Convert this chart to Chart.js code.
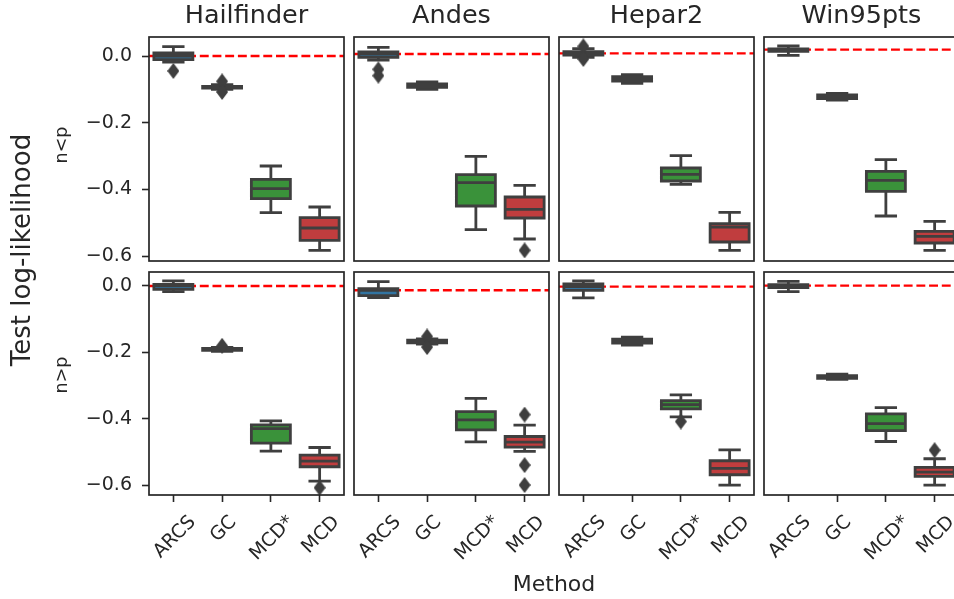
<!DOCTYPE html>
<html>
<head>
<meta charset="utf-8">
<script src="https://cdn.jsdelivr.net/npm/chart.js"></script>
<style>
  html, body { margin: 0; padding: 0; background: #ffffff; }
  #fig { position: relative; width: 954px; height: 599px; overflow: hidden; background: #ffffff;
         font-family: "DejaVu Sans", sans-serif; color: #262626; }
  #fig canvas { position: absolute; }
  .lbl { position: absolute; white-space: nowrap; line-height: 1; transform-origin: 50% 50%; }
</style>
</head>
<body>
<div id="fig"></div>
<script>
// ---------------- data ----------------
const methods  = ['ARCS', 'GC', 'MCD*', 'MCD'];
const networks = ['Hailfinder', 'Andes', 'Hepar2', 'Win95pts'];
const regimes  = ['n<p', 'n>p'];
const yTickValues = [0, -0.2, -0.4, -0.6];
const rowYMin = [-0.615, -0.629];
const rowYMax = [0.057, 0.042];

// box summaries per method: [lower whisker, Q1, median, Q3, upper whisker]
// regime n<p
const hailfinderLess = [[-0.018, -0.011, 0.000, 0.009, 0.028], [-0.100, -0.096, -0.093, -0.091, -0.086], [-0.470, -0.428, -0.398, -0.370, -0.330], [-0.583, -0.553, -0.516, -0.485, -0.453]];
const andesLess      = [[-0.012, -0.004, 0.006, 0.012, 0.026], [-0.100, -0.094, -0.089, -0.084, -0.078], [-0.521, -0.450, -0.380, -0.356, -0.301], [-0.549, -0.486, -0.460, -0.423, -0.388]];
const hepar2Less     = [[-0.004, 0.003, 0.008, 0.013, 0.022], [-0.082, -0.075, -0.068, -0.062, -0.056], [-0.385, -0.375, -0.355, -0.336, -0.299], [-0.583, -0.558, -0.513, -0.503, -0.469]];
const win95ptsLess   = [[0.002, 0.014, 0.019, 0.021, 0.030], [-0.132, -0.128, -0.122, -0.117, -0.112], [-0.480, -0.406, -0.373, -0.346, -0.311], [-0.583, -0.561, -0.541, -0.526, -0.496]];
// regime n>p
const hailfinderGreater = [[-0.017, -0.010, 0.000, 0.005, 0.015], [-0.197, -0.194, -0.191, -0.188, -0.185], [-0.497, -0.473, -0.429, -0.418, -0.406], [-0.587, -0.544, -0.527, -0.509, -0.486]];
const andesGreater      = [[-0.035, -0.029, -0.013, -0.008, 0.013], [-0.175, -0.171, -0.167, -0.163, -0.159], [-0.469, -0.433, -0.403, -0.378, -0.338], [-0.498, -0.485, -0.470, -0.453, -0.419]];
const hepar2Greater     = [[-0.036, -0.013, -0.002, 0.006, 0.015], [-0.178, -0.172, -0.166, -0.160, -0.154], [-0.394, -0.370, -0.357, -0.345, -0.328], [-0.599, -0.568, -0.549, -0.526, -0.493]];
const win95ptsGreater   = [[-0.017, -0.005, 0.001, 0.004, 0.014], [-0.281, -0.278, -0.274, -0.270, -0.265], [-0.468, -0.435, -0.414, -0.385, -0.366], [-0.599, -0.573, -0.560, -0.546, -0.520]];

// outlier points per method
const hailfinderLessOut    = [[-0.045], [-0.076, -0.108], [], []];
const andesLessOut         = [[-0.040, -0.059], [], [], [-0.583]];
const hepar2LessOut        = [[0.029, -0.009], [], [], []];
const win95ptsLessOut      = [[], [], [], []];
const hailfinderGreaterOut = [[], [-0.180], [], [-0.607]];
const andesGreaterOut      = [[], [-0.152, -0.184], [], [-0.387, -0.539, -0.599]];
const hepar2GreaterOut     = [[], [], [-0.408], []];
const win95ptsGreaterOut   = [[], [], [], [-0.494]];

const rowStats = [
  [hailfinderLess, andesLess, hepar2Less, win95ptsLess],
  [hailfinderGreater, andesGreater, hepar2Greater, win95ptsGreater]
];
const rowOutliers = [
  [hailfinderLessOut, andesLessOut, hepar2LessOut, win95ptsLessOut],
  [hailfinderGreaterOut, andesGreaterOut, hepar2GreaterOut, win95ptsGreaterOut]
];

// ---------------- style / layout ----------------
const faceColors = ['#3274a1', '#e1812c', '#3a923a', '#c03d3e'];
const GRAY = '#3f3f3f';
const INK = '#262626';
const FONT = '"DejaVu Sans", sans-serif';
Chart.defaults.font.family = FONT;

const colLefts = [149, 354, 559, 764];
const rowTops = [37, 272];
const rowBottoms = [261, 495];
const panelW = 195;
const figH = 599;
const yAxisW = 90;
const tickLen = 7;
const halfBox = 0.4, halfCap = 0.2;
const boxLine = 2.8;

function diamondImage() {
  const c = document.createElement('canvas');
  c.width = 12; c.height = 16;
  const g = c.getContext('2d');
  g.fillStyle = GRAY;
  g.beginPath(); g.moveTo(6, 0); g.lineTo(12, 8); g.lineTo(6, 16); g.lineTo(0, 8); g.closePath(); g.fill();
  return c;
}
const diamond = diamondImage();

const framePlugin = {
  id: 'frame',
  afterDatasetsDraw(chart) {
    const { ctx, chartArea: a } = chart;
    ctx.save();
    ctx.strokeStyle = INK; ctx.lineWidth = 1.7;
    ctx.strokeRect(a.left, a.top, a.right - a.left, a.bottom - a.top);
    ctx.restore();
  }
};

const xLabelPlugin = {
  id: 'xLabels',
  afterDraw(chart) {
    const { ctx, chartArea, scales } = chart;
    const size = 19, capH = 0.729 * size;
    const top = chartArea.bottom + 18;
    ctx.save();
    ctx.font = size + 'px ' + FONT;
    ctx.fillStyle = INK;
    methods.forEach((m, i) => {
      const px = scales.x.getPixelForValue(i);
      const w = ctx.measureText(m).width;
      const cy = top + Math.SQRT1_2 * (w + capH) / 2;
      ctx.save();
      ctx.translate(px, cy);
      ctx.rotate(-Math.PI / 4);
      ctx.textAlign = 'center';
      ctx.textBaseline = 'alphabetic';
      ctx.fillText(m, 0, capH / 2);
      ctx.restore();
    });
    ctx.restore();
  }
};

function buildDatasets(stats, outs) {
  const whiskers = [], outline = [], faces = [], fliers = [];
  stats.forEach((s, i) => {
    const [lo, q1, med, q3, hi] = s;
    whiskers.push({x: i, y: q3}, {x: i, y: hi}, {x: i, y: null},
                  {x: i, y: q1}, {x: i, y: lo}, {x: i, y: null},
                  {x: i - halfCap, y: hi}, {x: i + halfCap, y: hi}, {x: i, y: null},
                  {x: i - halfCap, y: lo}, {x: i + halfCap, y: lo}, {x: i, y: null});
    outline.push({x: i - halfBox, y: q1}, {x: i + halfBox, y: q1}, {x: i + halfBox, y: q3},
                 {x: i - halfBox, y: q3}, {x: i - halfBox, y: q1}, {x: i, y: null},
                 {x: i - halfBox, y: med}, {x: i + halfBox, y: med}, {x: i, y: null});
    faces.push({x: i, y: [q1, q3]});
    outs[i].forEach(v => fliers.push({x: i, y: v}));
  });
  const ref = stats[0][2]; // dashed reference at ARCS median
  const refLine = [{x: -0.5, y: ref}, {x: methods.length - 0.5, y: ref}];
  return [
    {type: 'line', label: 'reference', data: refLine, borderColor: '#ff0000', borderWidth: 2.4,
     borderDash: [8.9, 3.8], pointRadius: 0, fill: false, order: 5},
    {type: 'line', label: 'whiskers', data: whiskers, borderColor: GRAY, borderWidth: boxLine,
     borderCapStyle: 'square', pointRadius: 0, fill: false, spanGaps: false, order: 4},
    {type: 'bar', label: 'boxes', data: faces, backgroundColor: faceColors, borderWidth: 0,
     barPercentage: 0.8, categoryPercentage: 1.0, order: 3},
    {type: 'line', label: 'box outline', data: outline, borderColor: GRAY, borderWidth: boxLine,
     borderCapStyle: 'square', borderJoinStyle: 'miter', pointRadius: 0, fill: false, spanGaps: false, order: 2},
    {type: 'line', label: 'outliers', data: fliers, showLine: false, pointStyle: diamond,
     pointRadius: 6, order: 1}
  ];
}

const fig = document.getElementById('fig');

for (let r = 0; r < 2; r++) {
  for (let c = 0; c < 4; c++) {
    const padL = c === 0 ? yAxisW + 10 : 12;
    const padT = 30, padR = 12;
    const padB = r === 1 ? figH - rowBottoms[r] : 30;
    const panelH = rowBottoms[r] - rowTops[r];
    const cv = document.createElement('canvas');
    const W = panelW + padL + padR, H = panelH + padT + padB;
    cv.width = W; cv.height = H;
    cv.style.width = W + 'px'; cv.style.height = H + 'px';
    cv.style.left = (colLefts[c] - padL) + 'px';
    cv.style.top = (rowTops[r] - padT) + 'px';
    fig.appendChild(cv);

    const gridOpts = {display: true, offset: false, drawOnChartArea: false, drawTicks: true,
                      tickLength: tickLen, tickWidth: 1.6, tickColor: INK};
    const showX = r === 1, showY = c === 0;
    new Chart(cv, {
      type: 'bar',
      data: { datasets: buildDatasets(rowStats[r][c], rowOutliers[r][c]) },
      options: {
        responsive: false, animation: false, devicePixelRatio: 1, events: [],
        layout: { padding: { left: padL - (showY ? yAxisW : 0), top: padT, right: padR,
                             bottom: padB - (showX ? tickLen : 0) } },
        plugins: { legend: {display: false}, tooltip: {enabled: false}, title: {display: false} },
        scales: {
          x: {
            type: 'linear', min: -0.5, max: methods.length - 0.5, offset: false, display: showX,
            afterBuildTicks: s => { s.ticks = methods.map((m, i) => ({value: i})); },
            ticks: {display: false},
            grid: gridOpts,
            border: {display: false},
            afterFit: s => { if (showX) s.height = tickLen; }
          },
          y: {
            type: 'linear', min: rowYMin[r], max: rowYMax[r], display: showY,
            afterBuildTicks: s => { s.ticks = yTickValues.map(v => ({value: v})); },
            ticks: { font: {family: FONT, size: 19}, color: INK, padding: 10,
                     callback: v => Number(v).toFixed(1).replace('-', '\u2212') },
            grid: gridOpts,
            border: {display: false},
            afterFit: s => { if (showY) s.width = yAxisW; }
          }
        }
      },
      plugins: showX ? [framePlugin, xLabelPlugin] : [framePlugin]
    });
  }
}

// ---------------- figure-level text ----------------
function addLabel(text, cx, cy, size, rot) {
  const d = document.createElement('div');
  d.className = 'lbl';
  d.textContent = text;
  d.style.fontSize = size + 'px';
  d.style.left = cx + 'px';
  d.style.top = cy + 'px';
  d.style.transform = 'translate(-50%, -50%)' + (rot ? ' rotate(' + rot + 'deg)' : '');
  fig.appendChild(d);
}
networks.forEach((n, c) => addLabel(n, colLefts[c] + panelW / 2, 14.5, 25.5, 0));
addLabel(regimes[0], 61.5, 145, 17.5, -90);
addLabel(regimes[1], 61.5, 375, 17.5, -90);
addLabel('Test log-likelihood', 21, 250, 26, -90);
addLabel('Method', 554, 584, 22, 0);
</script>
</body>
</html>
